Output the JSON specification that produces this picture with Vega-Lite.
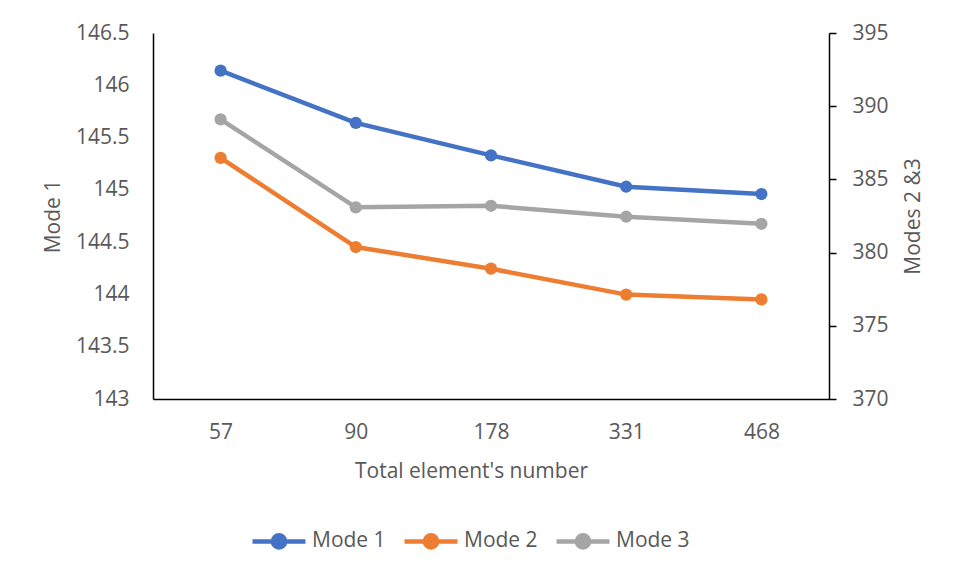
{
  "$schema": "https://vega.github.io/schema/vega-lite/v6.json",
  "autosize": {"type": "none"},
  "padding": {"left": 153, "top": 33, "right": 133, "bottom": 181},
  "width": 676,
  "height": 366,
  "background": "white",
  "config": {
    "view": {"stroke": null},
    "font": "Open Sans",
    "axis": {"labelFont": "Open Sans", "titleFont": "Open Sans", "labelFontSize": 21, "titleFontSize": 21, "labelColor": "#595959", "titleColor": "#595959", "titleFontWeight": "normal", "grid": false, "domainColor": "#000000", "domainWidth": 1.5, "tickColor": "#000000", "tickWidth": 1.5},
    "legend": {"labelFont": "Open Sans", "labelFontSize": 21, "labelColor": "#595959"}
  },
  "data": {
    "values": [
      {"n": "57", "mode": "Mode 1", "value": 146.14},
      {"n": "90", "mode": "Mode 1", "value": 145.64},
      {"n": "178", "mode": "Mode 1", "value": 145.33},
      {"n": "331", "mode": "Mode 1", "value": 145.03},
      {"n": "468", "mode": "Mode 1", "value": 144.96},
      {"n": "57", "mode": "Mode 2", "value": 386.47},
      {"n": "90", "mode": "Mode 2", "value": 380.38},
      {"n": "178", "mode": "Mode 2", "value": 378.9},
      {"n": "331", "mode": "Mode 2", "value": 377.13},
      {"n": "468", "mode": "Mode 2", "value": 376.8},
      {"n": "57", "mode": "Mode 3", "value": 389.1},
      {"n": "90", "mode": "Mode 3", "value": 383.09},
      {"n": "178", "mode": "Mode 3", "value": 383.2},
      {"n": "331", "mode": "Mode 3", "value": 382.45},
      {"n": "468", "mode": "Mode 3", "value": 381.97}
    ]
  },
  "encoding": {
    "x": {
      "field": "n", "type": "ordinal", "sort": null,
      "scale": {"paddingInner": 0, "paddingOuter": 0},
      "axis": {"title": "Total element's number", "labelAngle": 0, "ticks": false, "tickSize": 0, "labelPadding": 22, "titlePadding": 18, "titleX": 318, "titleAnchor": "middle"}
    },
    "color": {
      "field": "mode", "type": "nominal",
      "scale": {"domain": ["Mode 1", "Mode 2", "Mode 3"], "range": ["#4472C4", "#ED7D31", "#A5A5A5"]},
      "legend": {
        "title": null, "orient": "none", "direction": "horizontal",
        "legendX": 97, "legendY": 479,
        "symbolType": "M-1,0 L1,0 M-0.23,0 A0.23,0.23 0 1,1 0.23,0 A0.23,0.23 0 1,1 -0.23,0 Z",
        "symbolSize": 2809,
        "labelOffset": 4,
        "columnPadding": 9,
        "encode": {"symbols": {"update": {"fill": {"scale": "color", "field": "value"}, "stroke": {"scale": "color", "field": "value"}, "strokeWidth": {"value": 4.5}, "opacity": {"value": 1}, "fillOpacity": {"value": 1}}}}
      }
    }
  },
  "layer": [
    {
      "transform": [{"filter": "datum.mode === 'Mode 1'"}],
      "mark": {"type": "line", "strokeWidth": 4.5, "point": {"filled": true, "size": 150, "opacity": 1}},
      "encoding": {
        "y": {
          "field": "value", "type": "quantitative",
          "scale": {"domain": [143, 146.5], "zero": false, "nice": false},
          "axis": {"title": "Mode 1", "orient": "left", "values": [143, 143.5, 144, 144.5, 145, 145.5, 146, 146.5], "format": "~f", "ticks": false, "tickSize": 0, "labelPadding": 24, "titlePadding": 12}
        }
      }
    },
    {
      "transform": [{"filter": "datum.mode !== 'Mode 1'"}],
      "mark": {"type": "line", "strokeWidth": 4.5, "point": {"filled": true, "size": 150, "opacity": 1}},
      "encoding": {
        "y": {
          "field": "value", "type": "quantitative",
          "scale": {"domain": [370, 395], "zero": false, "nice": false},
          "axis": {"title": "Modes 2 &3", "orient": "right", "values": [370, 375, 380, 385, 390, 395], "tickSize": 7, "labelPadding": 16, "titlePadding": 14, "titleAngle": 270, "titleBaseline": "top"}
        }
      }
    }
  ],
  "resolve": {"scale": {"y": "independent"}}
}
